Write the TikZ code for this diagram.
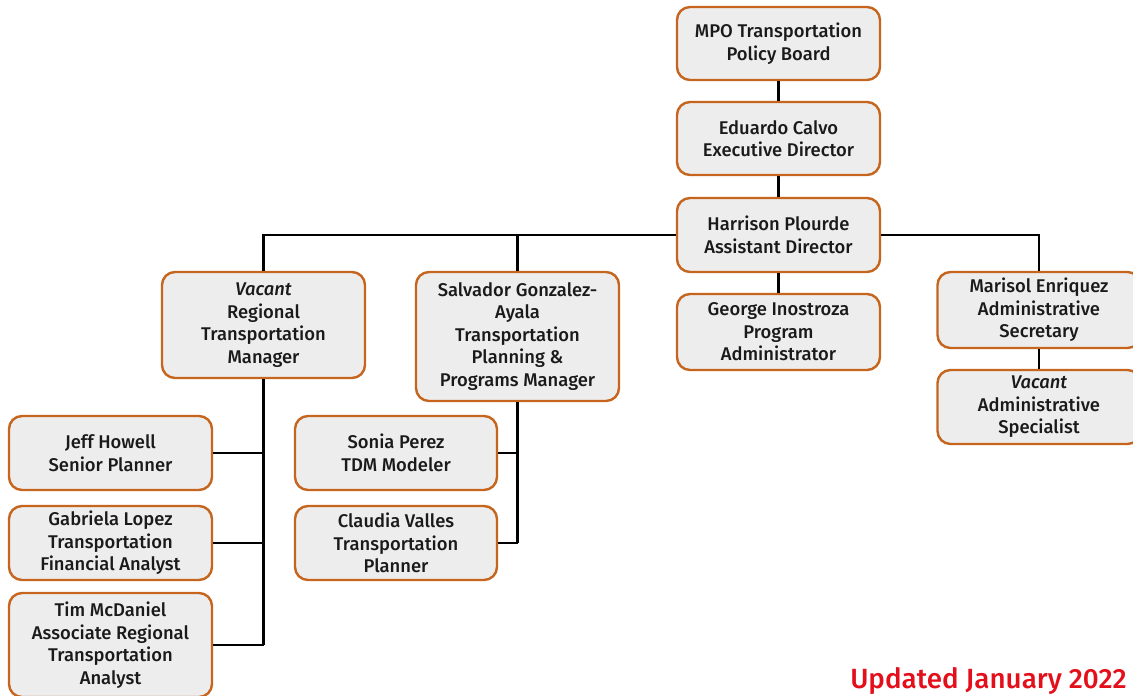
\documentclass[tikz,border=0pt]{standalone}
\usepackage{fontspec}
\setmainfont{Fira Sans}[UprightFont=* Medium, ItalicFont=* Medium Italic, BoldFont=* SemiBold]
\definecolor{boxedge}{HTML}{C5651E}
\definecolor{boxfill}{HTML}{EDEDED}
\definecolor{updred}{HTML}{E3101B}
\definecolor{txt}{HTML}{1A1A1A}
\begin{document}
\begin{tikzpicture}[x=1pt,y=-1pt,
  box/.style={draw=boxedge, line width=2.4pt, fill=boxfill, rounded corners=13pt,
    minimum width=203pt, align=center, inner sep=1pt, text=txt,
    font=\fontsize{18.4}{22.5}\selectfont},
  link/.style={line width=2.8pt, black}]
\useasboundingbox (0,0) rectangle (1133,696);
\fill[white] (0,0) rectangle (1133,696);
\node[box, minimum height=73pt] (mpo) at (778.5,43.5) {MPO Transportation\\Policy Board};
\node[box, minimum height=73pt] (exe) at (778.5,138.5) {Eduardo Calvo\\Executive Director};
\node[box, minimum height=74pt] (asd) at (778.5,235) {Harrison Plourde\\Assistant Director};
\node[box, minimum height=76pt] (pga) at (778.5,332) {George Inostroza\\Program\\Administrator};
\node[box, minimum height=106pt] (rtm) at (263.5,325) {\textit{Vacant}\\Regional\\Transportation\\Manager};
\node[box, minimum height=129pt] (tpm) at (517.5,336.5) {Salvador Gonzalez-\\Ayala\\Transportation\\Planning \&\\Programs Manager};
\node[box, minimum height=76pt] (sec) at (1039,310) {Marisol Enriquez\\Administrative\\Secretary};
\node[box, minimum height=74pt] (spc) at (1039,407) {\textit{Vacant}\\Administrative\\Specialist};
\node[box, minimum height=74pt] (jeff) at (110.5,453) {Jeff Howell\\Senior Planner};
\node[box, minimum height=74pt] (gab) at (110.5,543) {Gabriela Lopez\\Transportation\\Financial Analyst};
\node[box, minimum height=104pt] (tim) at (110.5,645) {Tim McDaniel\\Associate Regional\\Transportation\\Analyst};
\node[box, minimum height=74pt, minimum width=202pt] (son) at (396,453) {Sonia Perez\\TDM Modeler};
\node[box, minimum height=74pt, minimum width=202pt] (cla) at (396,543) {Claudia Valles\\Transportation\\Planner};
\node[anchor=base east, text=updred, inner sep=0pt, font=\fontsize{27.8}{31}\selectfont] (upd) at (1127,688) {Updated January 2022};
\draw[link] (mpo) -- (exe);
\draw[link] (exe) -- (asd);
\draw[link] (asd) -- (pga);
\draw[link] (asd.west) -| (rtm.north);
\draw[link] (tpm.north) -- (tpm.north |- asd.west);
\draw[link] (asd.east) -| (sec.north);
\draw[link] (sec) -- (spc);
\draw[link] (rtm.south) -- (rtm.south |- tim.east);
\draw[link] (jeff.east) -- (jeff.east -| rtm.south);
\draw[link] (gab.east) -- (gab.east -| rtm.south);
\draw[link] (tim.east) -- (tim.east -| rtm.south);
\draw[link] (tpm.south) -- (tpm.south |- cla.east);
\draw[link] (son.east) -- (son.east -| tpm.south);
\draw[link] (cla.east) -- (cla.east -| tpm.south);
\end{tikzpicture}
\end{document}
